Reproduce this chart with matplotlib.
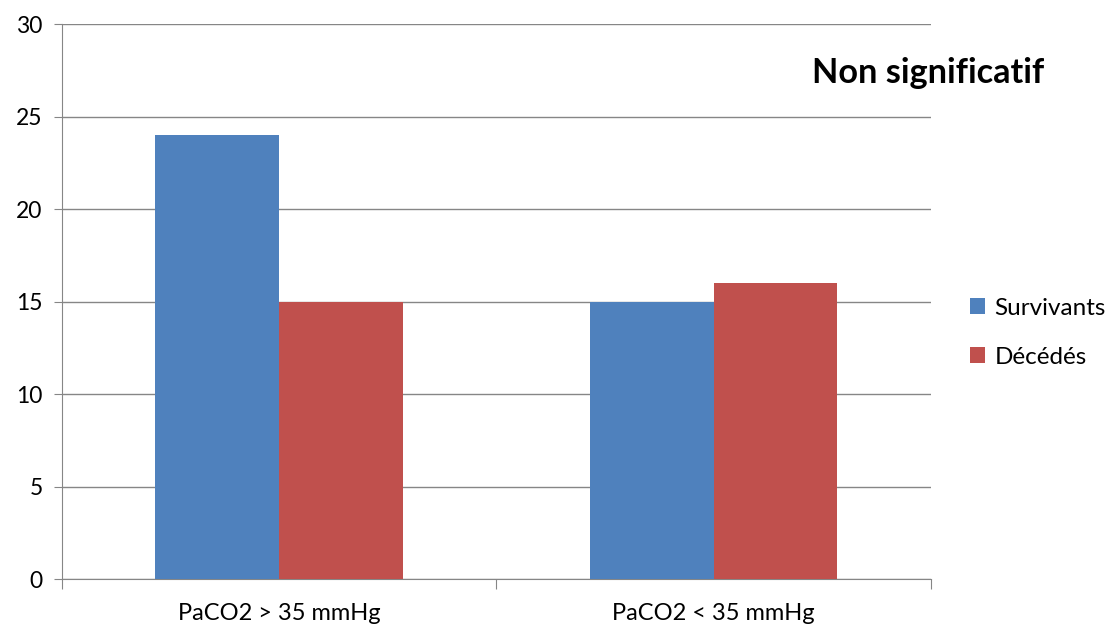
import numpy as np
import matplotlib.pyplot as plt

plt.rcParams['font.family'] = ['Lato', 'DejaVu Sans']

categories = ["PaCO2 > 35 mmHg", "PaCO2 < 35 mmHg"]
survivants = [24, 15]
decedes = [15, 16]

fig = plt.figure(figsize=(11.18, 6.35), dpi=100)
ax = fig.add_axes([0.0555, 0.088, 0.777, 0.874])

x = np.arange(len(categories))
w = 0.285
ax.bar(x - w / 2, survivants, w, color="#4F81BD", label="Survivants", zorder=3)
ax.bar(x + w / 2, decedes, w, color="#C0504D", label="Décédés", zorder=3)

ax.set_xlim(-0.5, 1.5)
ax.set_ylim(0, 30)
ax.set_yticks(range(0, 31, 5))
ax.yaxis.grid(True, color="#868686", linewidth=1, zorder=0)

# category ticks sit on the group boundaries
ax.set_xticks([-0.5, 0.5, 1.5])
ax.set_xticklabels([])
ax.set_xticks(x, minor=True)
ax.set_xticklabels(categories, minor=True)
ax.tick_params(axis="x", which="minor", length=0, pad=17, labelsize=17)
ax.tick_params(axis="x", which="major", length=7, color="#868686")
ax.tick_params(axis="y", length=6, color="#868686", labelsize=16.5, pad=8)

for s in ["top", "right"]:
    ax.spines[s].set_visible(False)
for s in ["left", "bottom"]:
    ax.spines[s].set_color("#868686")

ax.text(0.997, 0.912, "Non significatif", transform=ax.transAxes,
        fontsize=24.7, fontweight="bold", ha="center", va="center")

ax.legend(loc="center left", bbox_to_anchor=(1.02, 0.444), frameon=False,
          fontsize=17.5, handlelength=0.6, handleheight=0.6, labelspacing=1.15,
          handletextpad=0.4)

plt.savefig("out.png", dpi=100)
